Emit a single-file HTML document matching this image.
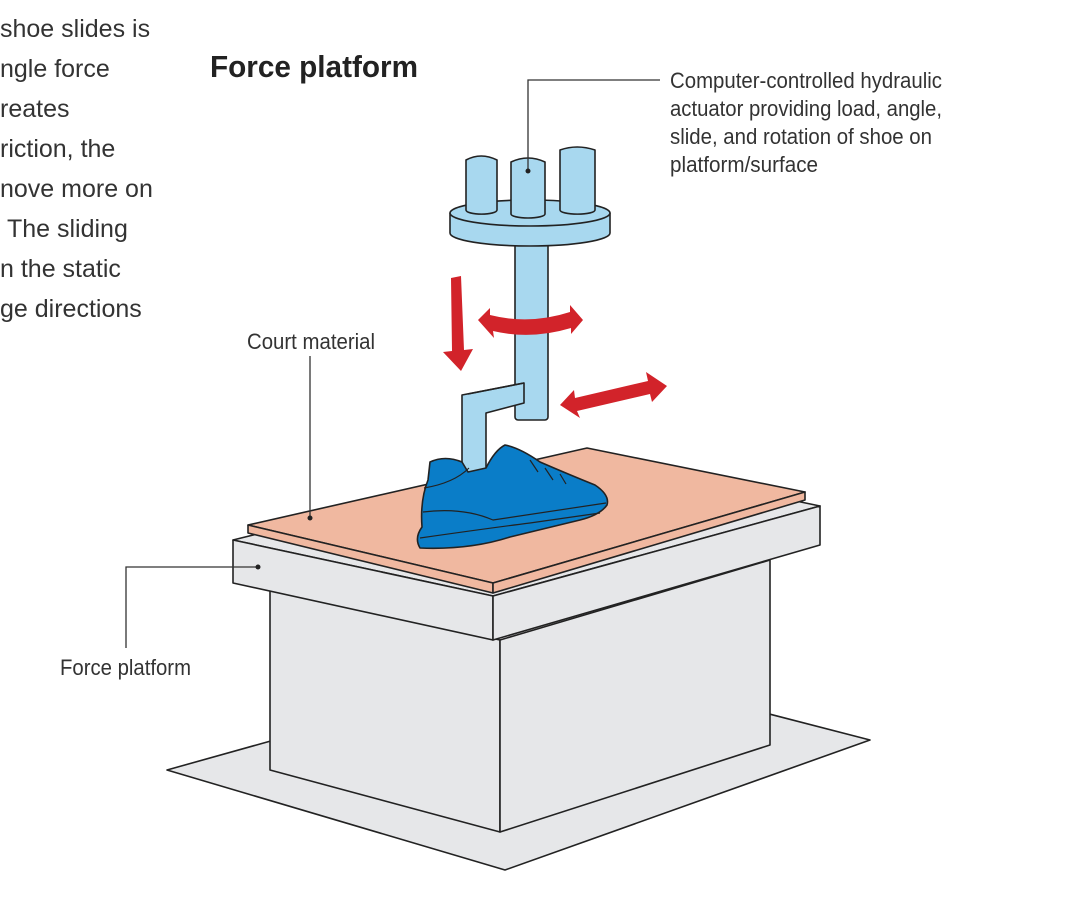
<!DOCTYPE html>
<html><head><style>
body{margin:0;width:1080px;height:913px;background:#fff;overflow:hidden;position:relative;font-family:"Liberation Sans",sans-serif;}
.l{position:absolute;left:0;font-size:25px;color:#333;white-space:nowrap;}
</style></head><body>
<div class="l" style="top:15px">shoe slides is</div>
<div class="l" style="top:55px">ngle force</div>
<div class="l" style="top:95px">reates</div>
<div class="l" style="top:135px">riction, the</div>
<div class="l" style="top:175px">nove more on</div>
<div class="l" style="top:215px">&nbsp;The sliding</div>
<div class="l" style="top:255px">n the static</div>
<div class="l" style="top:295px">ge directions</div>
<svg width="1080" height="913" style="position:absolute;left:0;top:0" font-family="Liberation Sans Narrow, Liberation Sans, sans-serif">
<text x="210" y="77" font-size="31" font-weight="bold" fill="#222" textLength="208" lengthAdjust="spacingAndGlyphs">Force platform</text>
<g fill="#333" font-size="22">
<text x="670" y="88" textLength="272" lengthAdjust="spacingAndGlyphs">Computer-controlled hydraulic</text>
<text x="670" y="116" textLength="272" lengthAdjust="spacingAndGlyphs">actuator providing load, angle,</text>
<text x="670" y="144" textLength="262" lengthAdjust="spacingAndGlyphs">slide, and rotation of shoe on</text>
<text x="670" y="172" textLength="148" lengthAdjust="spacingAndGlyphs">platform/surface</text>
<text x="247" y="349" textLength="128" lengthAdjust="spacingAndGlyphs">Court material</text>
<text x="60" y="675" textLength="131" lengthAdjust="spacingAndGlyphs">Force platform</text>
</g>
<g stroke="#222" stroke-width="1.6" stroke-linejoin="round">
<polygon points="167,770 505,870 870,740 560,660" fill="#e6e7e9"/>
<polygon points="270,590 500,640 500,832 270,770" fill="#e6e7e9"/>
<polygon points="500,640 770,560 770,745 500,832" fill="#e6e7e9"/>
<polygon points="233,540 575,455 820,506 493,596" fill="#e6e7e9"/>
<polygon points="233,540 493,596 493,640 233,583" fill="#e6e7e9"/>
<polygon points="493,596 820,506 820,545 493,640" fill="#e6e7e9"/>
<polygon points="248,525 587,448 805,492 493,583" fill="#f0b8a0"/>
<polygon points="248,525 493,583 493,593 248,533" fill="#f0b8a0"/>
<polygon points="493,583 805,492 805,500 493,593" fill="#f0b8a0"/>
<!-- actuator -->
<rect x="515" y="225" width="33" height="195" rx="3" fill="#a8d8ef"/>
<path d="M450,213 v20 a80,13 0 0 0 160,0 v-20 z" fill="#a8d8ef"/>
<ellipse cx="530" cy="213" rx="80" ry="13" fill="#a8d8ef"/>
<path d="M466,160 q15,-8 31,0 v50 a15,4 0 0 1 -31,0 z" fill="#a8d8ef"/>
<path d="M511,162 q17,-8 34,0 v52 a17,4 0 0 1 -34,0 z" fill="#a8d8ef"/>
<path d="M560,150 q17,-6 35,0 v60 a17,4 0 0 1 -35,0 z" fill="#a8d8ef"/>
<path d="M462,395 l62,-12 v20 l-38,10 v65 l-24,5 z" fill="#a8d8ef"/>
<path d="M468,394 l56,-11" fill="none"/>
<!-- shoe -->
<path d="M430,462 Q445,455 462,462 L468,472 L486,468 Q495,450 505,445 Q520,448 540,462 Q570,475 595,485 Q610,495 607,505 Q600,515 580,520 L510,537 Q470,550 420,548 Q414,538 422,527 Q420,500 428,480 Z" fill="#0a7dc8"/>
<path d="M424,488 q30,-5 45,-20 M423,512 q40,-5 70,8 l113,-17 M420,538 q70,-10 110,-15 l70,-10 M530,460 l8,12 M545,468 l8,12 M560,474 l6,10" fill="none" stroke-width="1.2"/>
</g>
<!-- red arrows -->
<g fill="#d2232a">
<polygon points="451,278 461,276 464,350 473,349 461,371 443,352 452,351"/>
<path d="M478,320 l12,-12 l0,7 q40,10 80,-3 l0,-7 l13,15 l-12,14 l0,-6 q-40,12 -78,3 l1,7 z"/>
<polygon points="560,405 574,390 575,398 648,381 646,372 667,386 652,402 650,394 577,411 580,418"/>
</g>
<!-- leaders -->
<g stroke="#333" stroke-width="1.3" fill="none">
<polyline points="528,170 528,80 660,80"/>
<line x1="310" y1="356" x2="310" y2="517"/>
<polyline points="126,648 126,567 258,567"/>
</g>
<g fill="#222"><circle cx="528" cy="171" r="2.5"/><circle cx="310" cy="518" r="2.5"/><circle cx="258" cy="567" r="2.5"/></g>
</svg>
</body></html>
